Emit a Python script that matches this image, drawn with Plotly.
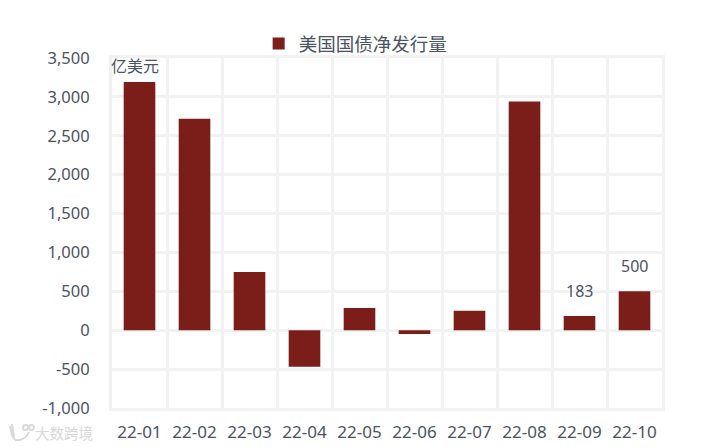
import plotly.graph_objects as go

FONT = "Noto Sans, Noto Sans CJK SC, sans-serif"
TEXT = "#4a5363"
GRID = "#f2f2f2"
MARK = "#d8d8d8"
categories = ["22-01", "22-02", "22-03", "22-04", "22-05", "22-06", "22-07", "22-08", "22-09", "22-10"]
values = [3190, 2720, 750, -470, 285, -50, 250, 2940, 183, 500]
labelled = {"22-09": 183, "22-10": 500}
series_name = "美国国债净发行量"
unit_label = "亿美元"
watermark = "大数跨境"
tick_vals = [-1000, -500, 0, 500, 1000, 1500, 2000, 2500, 3000, 3500]
tick_text = ["-1,000", "-500", "0", "500", "1,000", "1,500", "2,000", "2,500", "3,000", "3,500"]

fig = go.Figure(go.Bar(
    x=categories, y=values, name=series_name, width=0.575,
    marker=dict(color="#7b1e1a", line=dict(width=0)),
    showlegend=True,
))
annotations = [
    dict(x=c, y=v, text=str(v), yshift=25, yanchor="middle", showarrow=False,
         font=dict(family=FONT, size=16, color=TEXT))
    for c, v in labelled.items()
]
annotations += [
    dict(text=unit_label, xref="paper", yref="paper", x=0.0, y=1.0, xanchor="left", yanchor="middle",
         xshift=-3, yshift=-8, showarrow=False, font=dict(family=FONT, size=16, color=TEXT)),
    dict(text=watermark, xref="paper", yref="paper", x=0.0, y=0.0, xanchor="left", yanchor="middle",
         xshift=-79, yshift=-25, showarrow=False, font=dict(family=FONT, size=14.5, color=MARK)),
]
# small watermark logo, positioned in pixels relative to the plot's lower-left corner
logo = dict(xref="paper", yref="paper", xsizemode="pixel", ysizemode="pixel",
            xanchor=0, yanchor=0, line=dict(color=MARK, width=2))
shapes = [
    dict(logo, type="path", path="M -102,-18 C -100,-24 -101,-30 -96,-32 C -90,-33 -85,-29 -83,-24"),
    dict(logo, type="path", path="M -100,-16 L -98,-29"),
    dict(logo, type="circle", x0=-89, x1=-84, y0=-22, y1=-17),
    dict(logo, type="circle", x0=-83, x1=-78, y0=-22, y1=-17),
]
fig.update_layout(
    width=703, height=439, autosize=False,
    margin=dict(l=104, r=49, t=50, b=39, autoexpand=False),
    paper_bgcolor="white", plot_bgcolor="white",
    font=dict(family=FONT, size=16, color=TEXT),
    legend=dict(orientation="h", x=0.443, xanchor="center", y=0.986, yanchor="bottom",
                bgcolor="rgba(0,0,0,0)",
                font=dict(family=FONT, size=18.5, color=TEXT), itemwidth=30),
    annotations=annotations,
    shapes=shapes,
)
fig.update_xaxes(type="category", tickson="boundaries", showgrid=True, gridcolor=GRID, gridwidth=3,
                 showline=True, linecolor=GRID, linewidth=3, mirror=True, zeroline=False, ticks="",
                 automargin=False, ticklabelstandoff=7, tickfont=dict(family=FONT, size=17, color=TEXT))
fig.update_yaxes(range=[-1000, 3500], tickmode="array", tickvals=tick_vals, ticktext=tick_text,
                 showgrid=True, gridcolor=GRID, gridwidth=3, showline=True, linecolor=GRID, linewidth=3,
                 mirror=True, zeroline=True, zerolinecolor=GRID, zerolinewidth=3, ticks="",
                 automargin=False, ticklabelstandoff=16, tickfont=dict(family=FONT, size=16.5, color=TEXT))
fig.write_html("out.html")
